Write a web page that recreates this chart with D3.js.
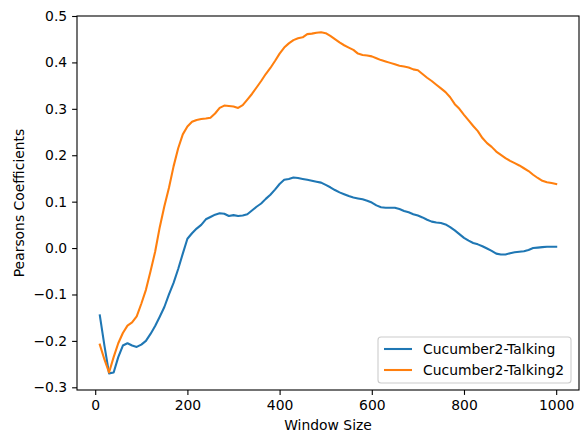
<!DOCTYPE html>
<html>
<head>
<meta charset="utf-8">
<script src="https://cdn.jsdelivr.net/npm/d3@7"></script>
<style>
  body { margin: 0; background: #fff; }
  svg { font-family: "DejaVu Sans", sans-serif; }
</style>
</head>
<body>
<div id="vis"></div>
<script>
// window sizes (x) and the two coefficient series
var windowSizes = d3.range(10, 1001, 10);

var talking = [
  -0.145, -0.210, -0.270, -0.268, -0.235, -0.210, -0.205, -0.210, -0.213, -0.208,
  -0.200, -0.185, -0.168, -0.148, -0.127, -0.100, -0.075, -0.045, -0.012, 0.020,
  0.032, 0.042, 0.050, 0.062, 0.067, 0.072, 0.075, 0.074, 0.069, 0.071,
  0.069, 0.070, 0.073, 0.081, 0.089, 0.096, 0.106, 0.115, 0.126, 0.138,
  0.147, 0.149, 0.152, 0.151, 0.149, 0.147, 0.145, 0.143, 0.141, 0.136,
  0.131, 0.125, 0.120, 0.116, 0.112, 0.109, 0.107, 0.105, 0.102, 0.098,
  0.092, 0.088, 0.087, 0.087, 0.087, 0.084, 0.080, 0.077, 0.073, 0.070,
  0.066, 0.061, 0.057, 0.055, 0.054, 0.051, 0.045, 0.038, 0.030, 0.022,
  0.016, 0.011, 0.008, 0.004, -0.001, -0.006, -0.012, -0.014, -0.014, -0.011,
  -0.009, -0.008, -0.007, -0.004, 0.000, 0.001, 0.002, 0.003, 0.003, 0.003
];

var talking2 = [
  -0.208, -0.240, -0.268, -0.235, -0.205, -0.183, -0.167, -0.160, -0.147, -0.120,
  -0.090, -0.050, -0.008, 0.045, 0.090, 0.130, 0.176, 0.215, 0.245, 0.262,
  0.272, 0.276, 0.278, 0.279, 0.281, 0.290, 0.302, 0.307, 0.306, 0.305,
  0.302, 0.308, 0.320, 0.332, 0.346, 0.360, 0.375, 0.388, 0.403, 0.419,
  0.432, 0.441, 0.448, 0.452, 0.454, 0.461, 0.462, 0.464, 0.465, 0.463,
  0.457, 0.450, 0.443, 0.437, 0.432, 0.427, 0.419, 0.416, 0.415, 0.413,
  0.409, 0.405, 0.402, 0.399, 0.396, 0.393, 0.391, 0.389, 0.385, 0.383,
  0.375, 0.367, 0.360, 0.352, 0.344, 0.336, 0.325, 0.310, 0.300, 0.287,
  0.275, 0.263, 0.252, 0.237, 0.226, 0.218, 0.208, 0.201, 0.194, 0.188,
  0.183, 0.178, 0.172, 0.166, 0.158, 0.151, 0.145, 0.142, 0.140, 0.138
];

var seriesNames = ["Cucumber2-Talking", "Cucumber2-Talking2"];
var seriesColors = ["#1f77b4", "#ff7f0e"];
var xTicks = [0, 200, 400, 600, 800, 1000];
var yTicks = [-0.3, -0.2, -0.1, 0.0, 0.1, 0.2, 0.3, 0.4, 0.5];

var W = 584, H = 432;
var plot = {left: 77, right: 579, top: 16, bottom: 390};
var fontSize = "13.9px";

var svg = d3.select("#vis").append("svg")
  .attr("width", W)
  .attr("height", H);

var x = d3.scaleLinear().domain([-39.5, 1049.5]).range([plot.left, plot.right]);
var y = d3.scaleLinear().domain([-0.3058, 0.5]).range([plot.bottom, plot.top]);

var fmtY = function(d) { return d3.format(".1f")(d).replace("-", "\u2212"); };

// axes
var xAxis = svg.append("g")
  .attr("transform", `translate(0,${plot.bottom})`)
  .call(d3.axisBottom(x).tickValues(xTicks).tickFormat(d3.format("d")).tickSize(4.9).tickPadding(4.9));
var yAxis = svg.append("g")
  .attr("transform", `translate(${plot.left},0)`)
  .call(d3.axisLeft(y).tickValues(yTicks).tickFormat(fmtY).tickSize(4.9).tickPadding(4.9));

[xAxis, yAxis].forEach(function(a) {
  a.select(".domain").remove();
  a.selectAll("line").attr("stroke", "#000").attr("stroke-width", 1.1);
  a.selectAll("text").attr("fill", "#000").style("font-size", fontSize)
    .style("font-family", "DejaVu Sans");
});

// frame
svg.append("rect")
  .attr("x", plot.left).attr("y", plot.top)
  .attr("width", plot.right - plot.left).attr("height", plot.bottom - plot.top)
  .attr("fill", "none").attr("stroke", "#000").attr("stroke-width", 1.1);

// lines
var line = d3.line()
  .x(function(d) { return x(d[0]); })
  .y(function(d) { return y(d[1]); });

[talking, talking2].forEach(function(vals, i) {
  svg.append("path")
    .datum(windowSizes.map(function(w, j) { return [w, vals[j]]; }))
    .attr("d", line)
    .attr("fill", "none")
    .attr("stroke", seriesColors[i])
    .attr("stroke-width", 2.08)
    .attr("stroke-linejoin", "round")
    .attr("stroke-linecap", "square");
});

// axis labels
svg.append("text")
  .attr("x", (plot.left + plot.right) / 2).attr("y", 430)
  .attr("text-anchor", "middle")
  .style("font-size", fontSize)
  .text("Window Size");
svg.append("text")
  .attr("transform", `translate(24,${(plot.top + plot.bottom) / 2}) rotate(-90)`)
  .attr("text-anchor", "middle")
  .style("font-size", fontSize)
  .text("Pearsons Coefficients");

// legend
var lg = svg.append("g");
lg.append("rect")
  .attr("x", 378).attr("y", 337).attr("width", 193).attr("height", 46)
  .attr("rx", 3).attr("fill", "#fff").attr("fill-opacity", 0.8)
  .attr("stroke", "#ccc").attr("stroke-width", 1.1);
seriesNames.forEach(function(name, i) {
  var ly = 349 + i * 21;
  lg.append("line")
    .attr("x1", 384).attr("x2", 412).attr("y1", ly).attr("y2", ly)
    .attr("stroke", seriesColors[i]).attr("stroke-width", 2.08);
  lg.append("text")
    .attr("x", 423).attr("y", ly + 5)
    .style("font-size", fontSize)
    .text(name);
});
</script>
</body>
</html>
